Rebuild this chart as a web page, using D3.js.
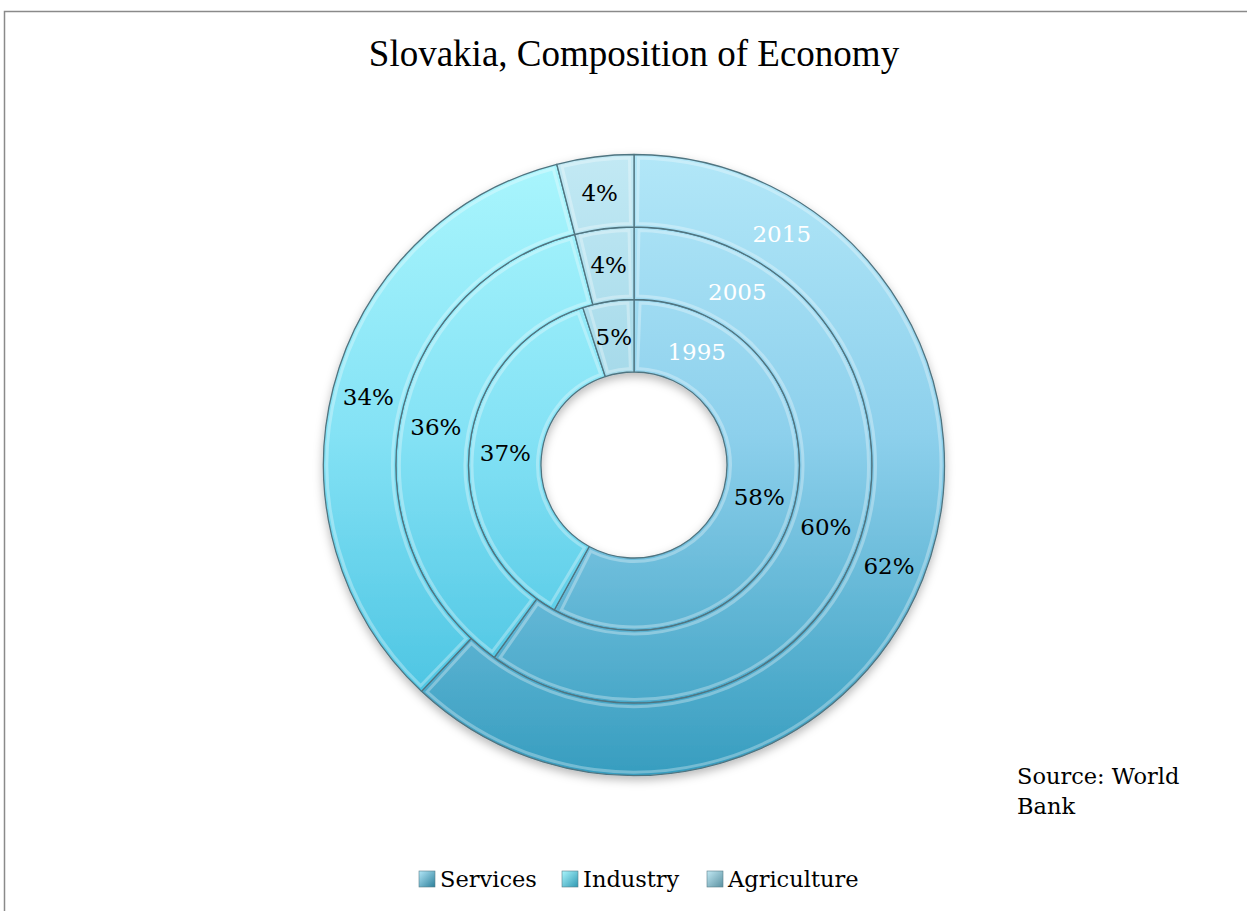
<!DOCTYPE html>
<html>
<head>
<meta charset="utf-8">
<script src="https://cdn.jsdelivr.net/npm/d3@7"></script>
<style>
  html, body { margin: 0; padding: 0; background: #fff; }
  svg { display: block; }
</style>
</head>
<body>
<svg id="chart" width="1247" height="911"></svg>
<script>
// Composition of the Slovak economy, share of GDP by sector (%)
const years = ["1995", "2005", "2015"];
const sectors = ["Services", "Industry", "Agriculture"];
const services = [58, 60, 62];
const industry = [37, 36, 34];
const agriculture = [5, 4, 4];

const W = 1247, H = 911;
const cx = 634, cy = 465;
const rHole = 93, ringW = 72.5;
const rOuter = rHole + 3 * ringW;

const svg = d3.select("#chart");
const defs = svg.append("defs");

// Per-sector vertical gradients spanning the whole donut (local coords)
const sectorColors = {
  Services:    ["#b2e7f8", "#8dd0ec", "#379dbf"],
  Industry:    ["#aaf6fd", "#84e2f5", "#3cbcdd"],
  Agriculture: ["#c2e9f4", "#9fd6e7", "#6fb3c8"]
};
sectors.forEach((s, i) => {
  const g = defs.append("linearGradient")
    .attr("id", "grad" + i)
    .attr("gradientUnits", "userSpaceOnUse")
    .attr("x1", 0).attr("x2", 0)
    .attr("y1", -rOuter).attr("y2", rOuter);
  g.append("stop").attr("offset", "0%").attr("stop-color", sectorColors[s][0]);
  g.append("stop").attr("offset", "45%").attr("stop-color", sectorColors[s][1]);
  g.append("stop").attr("offset", "100%").attr("stop-color", sectorColors[s][2]);
});

// Legend swatch gradients
sectors.forEach((s, i) => {
  const g = defs.append("linearGradient")
    .attr("id", "lgrad" + i)
    .attr("x1", 0).attr("x2", 1).attr("y1", 0).attr("y2", 1);
  g.append("stop").attr("offset", "0%").attr("stop-color", sectorColors[s][0]);
  g.append("stop").attr("offset", "100%").attr("stop-color", d3.color(sectorColors[s][2]).darker(0.6));
});

const shadow = defs.append("filter").attr("id", "shadow")
  .attr("x", "-10%").attr("y", "-10%").attr("width", "120%").attr("height", "125%");
shadow.append("feDropShadow")
  .attr("dx", 0).attr("dy", 4).attr("stdDeviation", 5)
  .attr("flood-color", "#000").attr("flood-opacity", 0.28);

// Chart frame
svg.append("rect")
  .attr("x", 4.5).attr("y", 11.5)
  .attr("width", W + 10).attr("height", H + 10)
  .attr("fill", "none").attr("stroke", "#8a8a8a").attr("stroke-width", 1.5);

// Title
svg.append("text")
  .attr("x", 634).attr("y", 66)
  .attr("text-anchor", "middle")
  .attr("font-family", "Liberation Serif, Times New Roman, serif")
  .attr("font-size", 37)
  .attr("fill", "#000")
  .text("Slovakia, Composition of Economy");

const pie = d3.pie().sort(null).value(d => d.value);
const rings = years.map((y, i) => ({
  year: y,
  inner: rHole + i * ringW,
  outer: rHole + (i + 1) * ringW,
  slices: pie(sectors.map((s, k) => ({
    sector: s, k,
    value: [services, industry, agriculture][k][i]
  })))
}));

const g = svg.append("g").attr("transform", `translate(${cx},${cy})`);
const donut = g.append("g").attr("filter", "url(#shadow)");

rings.forEach(ring => {
  const arc = d3.arc().innerRadius(ring.inner).outerRadius(ring.outer);
  ring.slices.forEach(sl => {
    donut.append("path")
      .attr("d", arc(sl))
      .attr("fill", `url(#grad${sl.data.k})`)
      .attr("stroke", "#4f7480")
      .attr("stroke-width", 1.3)
      .attr("stroke-linejoin", "round");
  });
});

// soft bevel highlight inside each segment
rings.forEach(ring => {
  const bevel = d3.arc().innerRadius(ring.inner + 3.5).outerRadius(ring.outer - 3.5);
  ring.slices.forEach(sl => {
    const da = 3.5 / ring.inner;
    g.append("path")
      .attr("d", bevel({ startAngle: sl.startAngle + da, endAngle: sl.endAngle - da }))
      .attr("fill", "none")
      .attr("stroke", "#ffffff")
      .attr("stroke-opacity", 0.3)
      .attr("stroke-width", 3);
  });
});

// Value labels at slice centroids
const labelFont = "DejaVu Serif, serif";
rings.forEach((ring, i) => {
  const arc = d3.arc().innerRadius(ring.inner).outerRadius(ring.outer);
  ring.slices.forEach(sl => {
    const [x, y] = arc.centroid(sl);
    g.append("text")
      .attr("x", x).attr("y", y)
      .attr("text-anchor", "middle")
      .attr("dominant-baseline", "central")
      .attr("font-family", labelFont)
      .attr("font-size", 23)
      .attr("fill", "#000")
      .text(sl.data.value + "%");
  });
  // Year label on the services segment
  const mid = (ring.inner + ring.outer) / 2;
  const ang = (29 + 1.8 * i) * Math.PI / 180;
  g.append("text")
    .attr("x", Math.sin(ang) * mid)
    .attr("y", -Math.cos(ang) * mid)
    .attr("text-anchor", "middle")
    .attr("dominant-baseline", "central")
    .attr("font-family", labelFont)
    .attr("font-size", 23)
    .attr("fill", "#ffffff")
    .text(ring.year);
});

// Source note
const src = svg.append("text")
  .attr("font-family", labelFont)
  .attr("font-size", 22.5)
  .attr("fill", "#000");
src.append("tspan").attr("x", 1017).attr("y", 784).text("Source: World");
src.append("tspan").attr("x", 1017).attr("y", 814).text("Bank");

// Legend
const legendX = [419, 562, 707];
const leg = svg.append("g");
sectors.forEach((s, i) => {
  leg.append("rect")
    .attr("x", legendX[i]).attr("y", 871)
    .attr("width", 16).attr("height", 16)
    .attr("fill", `url(#lgrad${i})`)
    .attr("stroke", "#5a7f8a").attr("stroke-width", 0.6);
  leg.append("text")
    .attr("x", legendX[i] + 21).attr("y", 887)
    .attr("font-family", labelFont)
    .attr("font-size", 22.5)
    .attr("fill", "#000")
    .text(s);
});
</script>
</body>
</html>
